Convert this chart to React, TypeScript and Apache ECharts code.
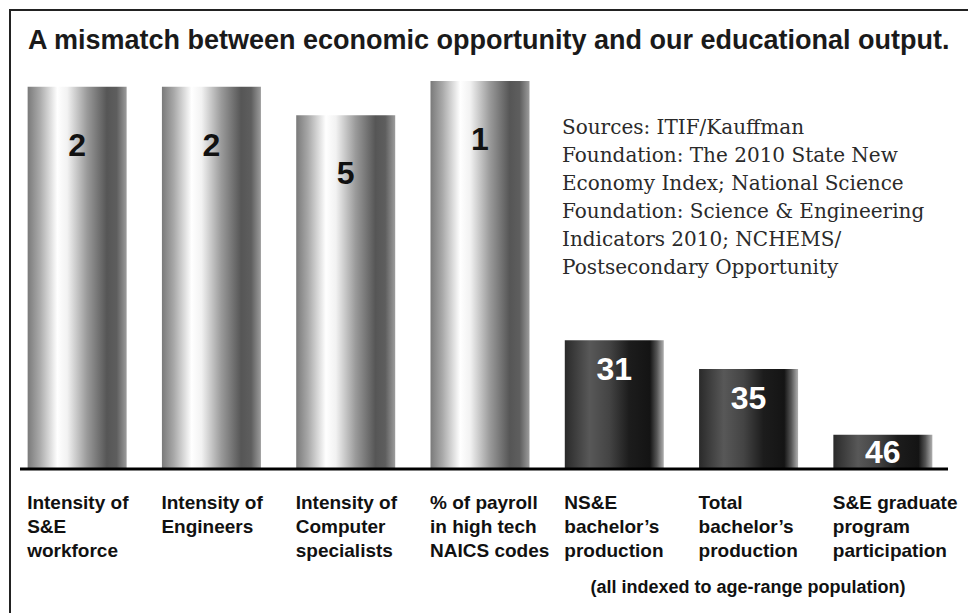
import React, { useEffect, useRef } from "react";
import * as echarts from "echarts";

const title = "A mismatch between economic opportunity and our educational output.";
const categories = [
  "Intensity of\nS&E\nworkforce",
  "Intensity of\nEngineers",
  "Intensity of\nComputer\nspecialists",
  "% of payroll\nin high tech\nNAICS codes",
  "NS&E\nbachelor’s\nproduction",
  "Total\nbachelor’s\nproduction",
  "S&E graduate\nprogram\nparticipation",
];
const stateRanks = [2, 2, 5, 1, 31, 35, 46];
const barHeights = [98.5, 98.5, 91.2, 100, 33.2, 25.8, 8.8];
const barGroups = ["economy", "economy", "economy", "economy", "education", "education", "education"];
const sourceNote = [
  "Sources: ITIF/Kauffman",
  "Foundation: The 2010 State New",
  "Economy Index; National Science",
  "Foundation: Science & Engineering",
  "Indicators 2010; NCHEMS/",
  "Postsecondary Opportunity",
];
const footnote = "(all indexed to age-range population)";

const SANS = "'Liberation Sans', Arial, sans-serif";

export default function App() {
  const ref = useRef<HTMLDivElement>(null);
  useEffect(() => {
    if (!ref.current) return;
    const chart = echarts.init(ref.current, undefined, { renderer: "svg" });
    const lightGrad = new echarts.graphic.LinearGradient(0, 0, 1, 0, [
      { offset: 0, color: "#7a7a7a" },
      { offset: 0.12, color: "#a8a8a8" },
      { offset: 0.3, color: "#ffffff" },
      { offset: 0.4, color: "#f2f2f2" },
      { offset: 0.6, color: "#9a9a9a" },
      { offset: 0.8, color: "#565656" },
      { offset: 0.9, color: "#5e5e5e" },
      { offset: 1, color: "#9c9c9c" },
    ]);
    const darkGrad = new echarts.graphic.LinearGradient(0, 0, 1, 0, [
      { offset: 0, color: "#2a2a2a" },
      { offset: 0.25, color: "#585858" },
      { offset: 0.45, color: "#444444" },
      { offset: 0.65, color: "#1c1c1c" },
      { offset: 0.86, color: "#141414" },
      { offset: 0.93, color: "#555555" },
      { offset: 1, color: "#b0b0b0" },
    ]);
    const data = barHeights.map((v, i) => {
      const light = barGroups[i] === "economy";
      return {
        value: v,
        itemStyle: { color: light ? lightGrad : darkGrad },
        label: {
          show: true,
          formatter: String(stateRanks[i]),
          position: v < 15 ? "inside" : "insideTop",
          distance: light ? 42 : 13,
          color: light ? "#111111" : "#ffffff",
          fontSize: 32,
          fontWeight: "bold",
          fontFamily: SANS,
        },
      };
    });
    chart.setOption({
      animation: false,
      backgroundColor: "#ffffff",
      title: {
        text: title,
        left: 23,
        top: 21,
        textStyle: {
          fontFamily: SANS,
          fontWeight: "bold",
          fontSize: 27,
          color: "#1a1a1a",
        },
      },
      grid: { left: 10, right: 18, top: 81, bottom: 144 },
      xAxis: {
        type: "category",
        data: categories,
        axisLine: { show: false },
        axisTick: { show: false },
        axisLabel: {
          interval: 0,
          margin: 21,
          align: "center",
          verticalAlign: "top",
          formatter: (v: string) => v.split("\n").map((l) => `{a|${l}}`).join("\n"),
          rich: {
            a: {
              width: 100,
              align: "left",
              fontSize: 19,
              fontWeight: "bold",
              lineHeight: 24,
              fontFamily: SANS,
              color: "#111111",
            },
          },
        },
      },
      yAxis: { type: "value", min: 0, max: 100, show: false, splitLine: { show: false } },
      series: [
        {
          type: "bar",
          data,
          barWidth: 99,
        },
      ],
      graphic: [
        { type: "line", shape: { x1: 10, y1: 9, x2: 10, y2: 613 }, style: { stroke: "#222", lineWidth: 2 } },
        { type: "line", shape: { x1: 9, y1: 10, x2: 968, y2: 10 }, style: { stroke: "#222", lineWidth: 2 } },
        { type: "line", z: 100, shape: { x1: 20, y1: 469, x2: 948, y2: 469 }, style: { stroke: "#000", lineWidth: 3 } },
        {
          type: "text",
          left: 562,
          top: 113,
          style: {
            text: sourceNote.join("\n"),
            font: "20px 'DejaVu Serif', serif",
            lineHeight: 28,
            fill: "#2a2a2a",
          },
        },
        {
          type: "text",
          x: 748,
          y: 587,
          style: {
            text: footnote,
            align: "center",
            verticalAlign: "middle",
            font: `bold 18px ${SANS}`,
            fill: "#111111",
          },
        },
      ],
    });
    return () => chart.dispose();
  }, []);
  return <div ref={ref} style={{ position: "absolute", left: 0, top: 0, width: 968, height: 613 }} />;
}
